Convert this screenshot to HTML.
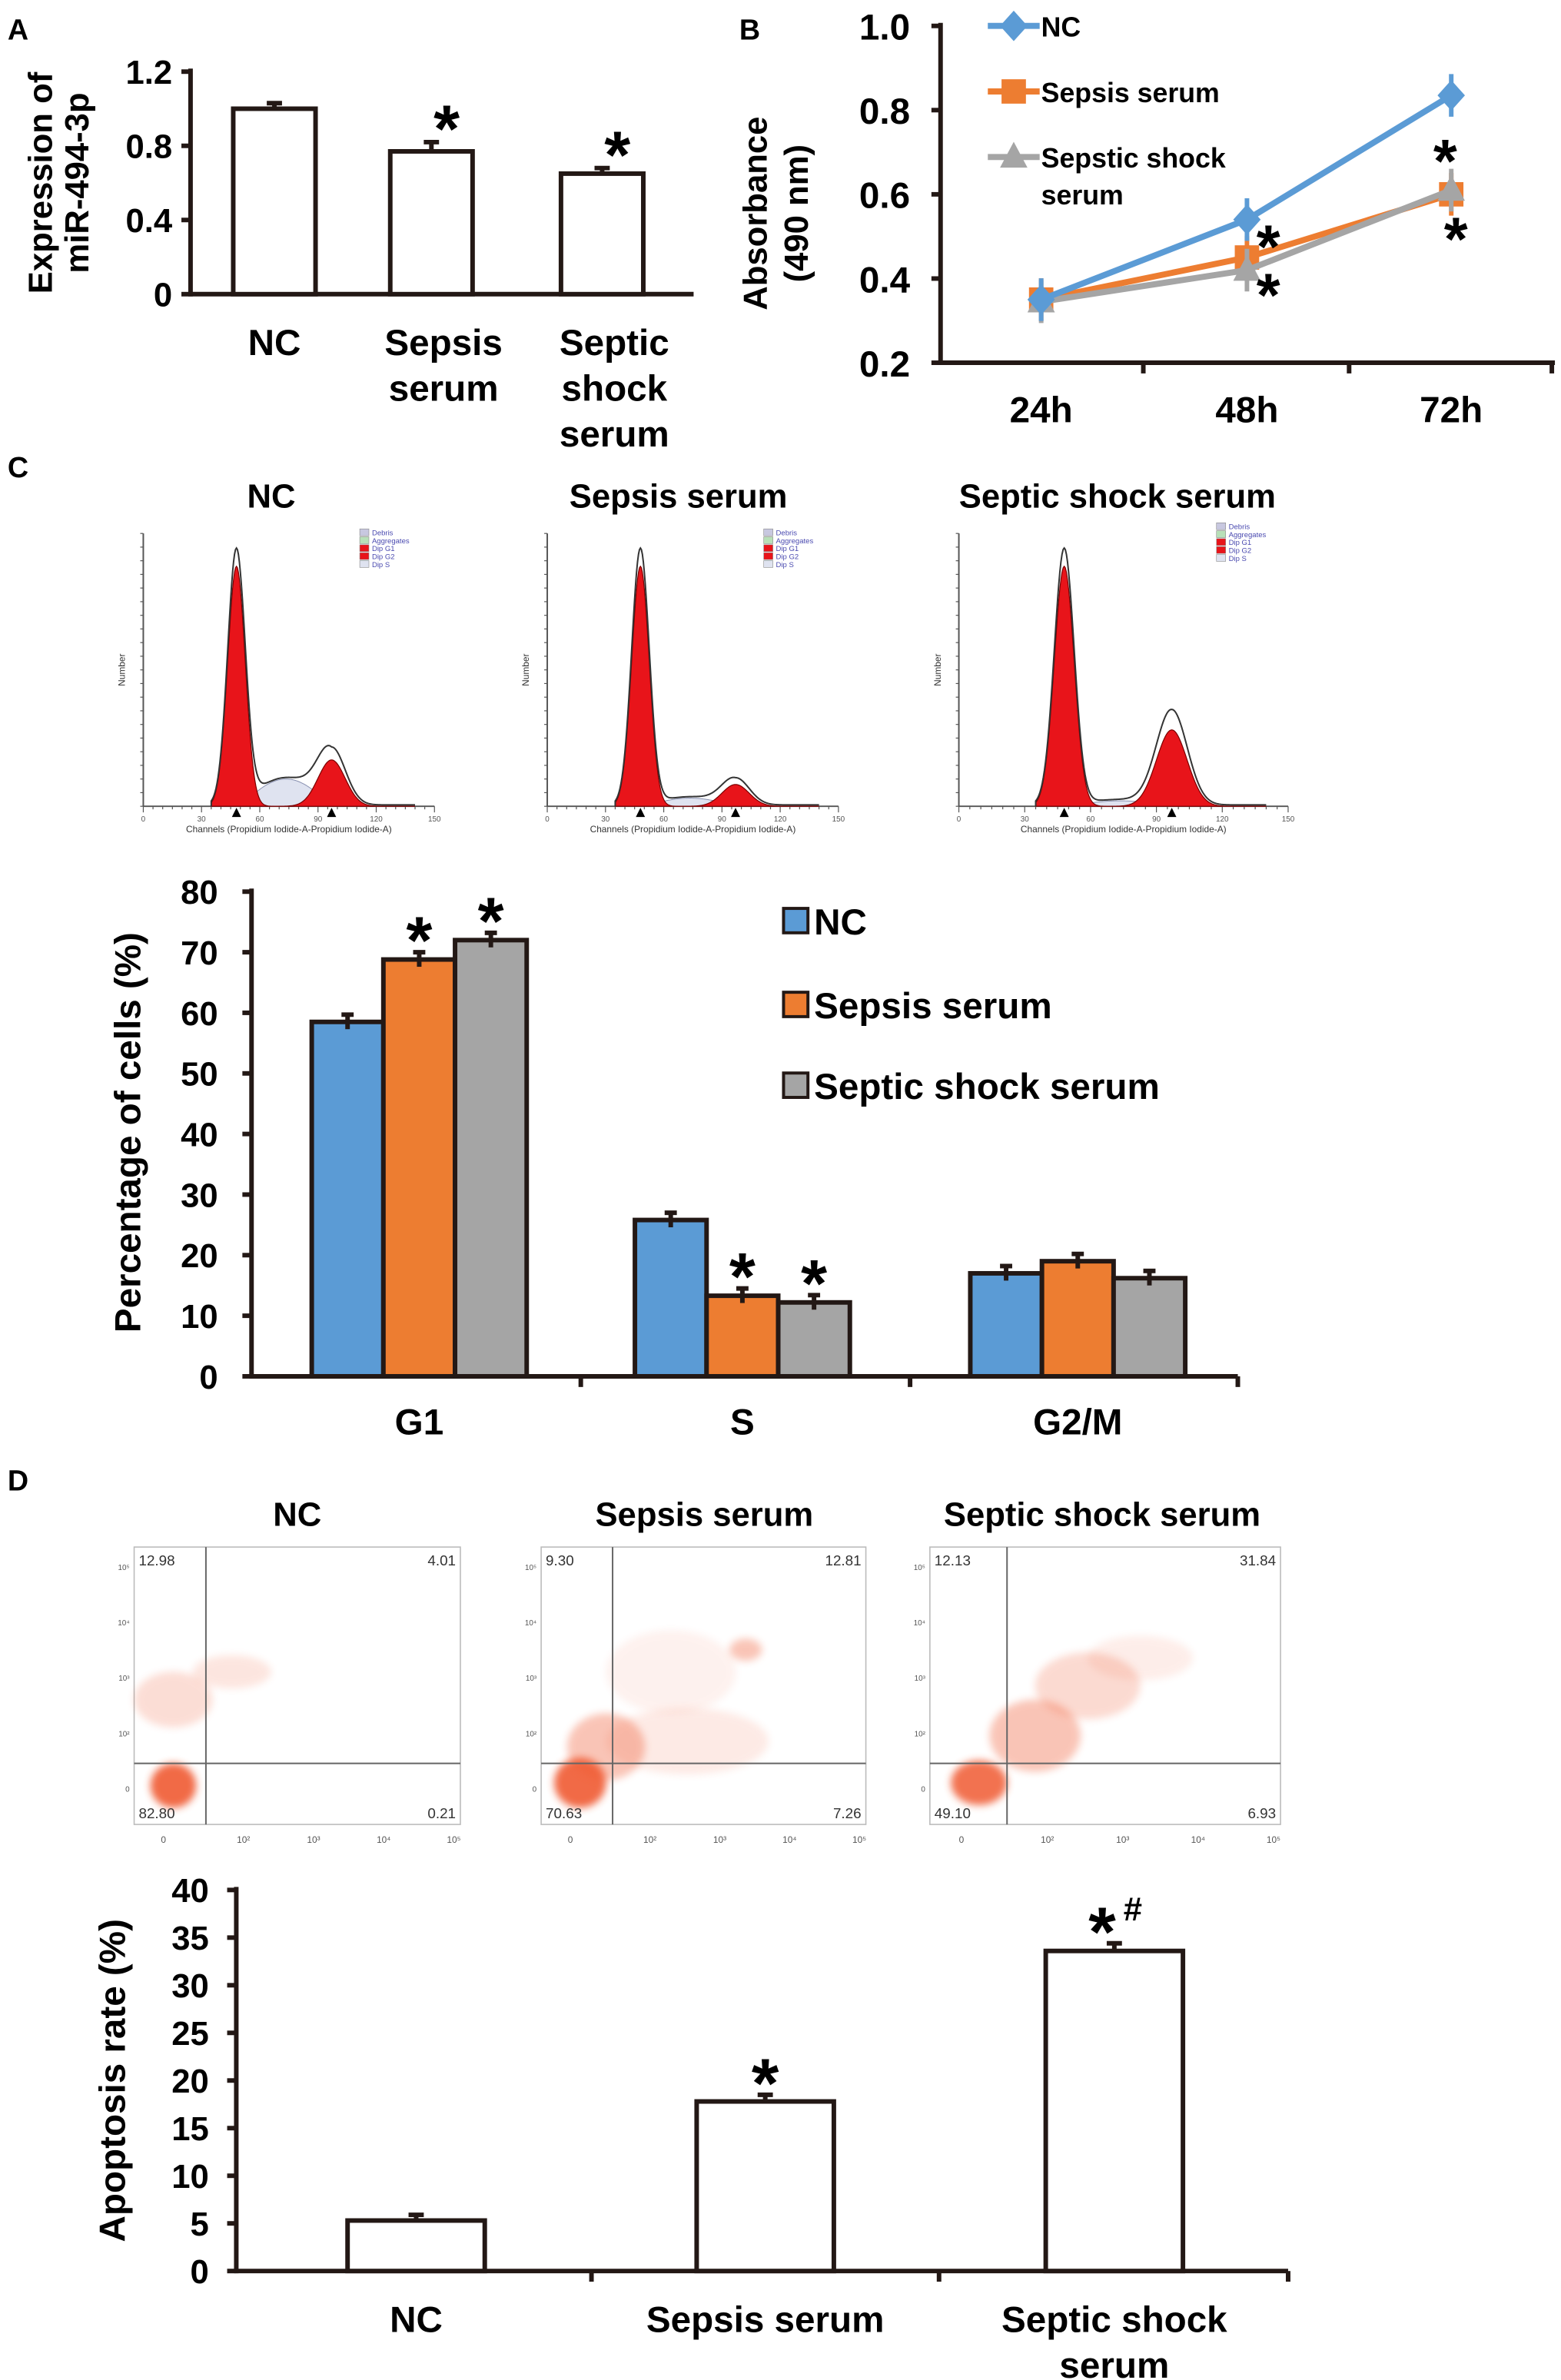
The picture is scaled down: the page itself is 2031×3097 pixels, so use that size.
<!DOCTYPE html>
<html><head><meta charset="utf-8">
<style>
html,body{margin:0;padding:0;background:#fff;}
svg{display:block;}
text{font-family:"Liberation Sans",Arial,sans-serif;}
.b{font-weight:bold;}
</style></head>
<body>
<svg id="fig" width="2031" height="3097" viewBox="0 0 1024 1561.5" preserveAspectRatio="none" xmlns="http://www.w3.org/2000/svg">
<defs><filter id="blur" x="-50%" y="-50%" width="200%" height="200%"><feGaussianBlur stdDeviation="2.5"/></filter></defs>
<g id="A"></g>
<g id="B"></g>
<g id="C1"></g>
<g id="C2"></g>
<g id="D1"></g>
<g id="D2"></g>
</svg>
<script>
// Panel A data
const aCategories = ["NC","Sepsis serum","Septic shock serum"];
const aValues = [1.0, 0.77, 0.65];
const aErrors = [0.03, 0.05, 0.03];
const aTicks = [0, 0.4, 0.8, 1.2];
// Panel B data
const bTimes = ["24h","48h","72h"];
const bNC = [0.35, 0.54, 0.835];
const bSepsis = [0.35, 0.45, 0.60];
const bShock = [0.345, 0.42, 0.61];
const bTicks = [0.2, 0.4, 0.6, 0.8, 1.0];
// Panel C bar data
const cPhases = ["G1","S","G2/M"];
const cNC = [58.5, 25.8, 17.0];
const cSepsis = [68.8, 13.3, 19.0];
const cShock = [72.0, 12.2, 16.2];
const cTicks = [0,10,20,30,40,50,60,70,80];
// Panel D bar data
const dCategories = ["NC","Sepsis serum","Septic shock serum"];
const dValues = [5.3, 17.8, 33.6];
const dErrors = [0.6, 0.7, 0.8];
const dTicks = [0,5,10,15,20,25,30,35,40];
// Flow quadrant percentages [UL, UR, LL, LR]
const quadNC = ["12.98","4.01","82.80","0.21"];
const quadSepsis = ["9.30","12.81","70.63","7.26"];
const quadShock = ["12.13","31.84","49.10","6.93"];
// Histogram peak heights (relative) [G1 peak, G2 peak, S level]
const histNC = [0.88, 0.17, 0.10];
const histSepsis = [0.88, 0.08, 0.03];
const histShock = [0.88, 0.28, 0.02];

const NS="http://www.w3.org/2000/svg";
function el(tag, attrs, parent, txt){
  const e=document.createElementNS(NS,tag);
  for(const k in attrs) e.setAttribute(k, attrs[k]);
  if(txt!==undefined) e.textContent=txt;
  parent.appendChild(e); return e;
}
// star centered at (x, cy)
function star(g,x,cy,size){size=size||44;
const t=el('text',{x:x,y:cy+size*0.44,'font-size':size,'text-anchor':'middle',class:'b'},g,'*');

return t;}

// ---------- Panel A ----------
(function(){
  const g=document.getElementById('A');
  const x0=125, y0=193, yTop=47, vmax=1.2;
  const ys=v=>y0-(v/vmax)*(y0-yTop);
  const xs=[180,283,395], bw=54;
  let t=el('text',{x:5,y:26,'font-size':19,class:'b'},g,'A');
  
  let yt=el('text',{transform:'translate(34,120) rotate(-90)','font-size':22,'text-anchor':'middle',class:'b'},g,'Expression of');
  
  let yt2=el('text',{transform:'translate(58,120) rotate(-90)','font-size':22,'text-anchor':'middle',class:'b'},g,'miR-494-3p');
  
  el('line',{x1:x0,y1:yTop-2,x2:x0,y2:y0+1.5,stroke:'#231815','stroke-width':3},g);
  el('line',{x1:x0,y1:y0,x2:455,y2:y0,stroke:'#231815','stroke-width':3},g);
  aTicks.forEach(v=>{
    el('line',{x1:x0-6,y1:ys(v),x2:x0,y2:ys(v),stroke:'#231815','stroke-width':3},g);
    const tk=el('text',{x:x0-12,y:ys(v)+8,'font-size':22,'text-anchor':'end',class:'b'},g,String(v));
    
  });
  const labels=[["NC"],["Sepsis","serum"],["Septic","shock","serum"]];
  aValues.forEach((v,i)=>{
    const r=el('rect',{x:xs[i]-bw/2,y:ys(v),width:bw,height:y0-ys(v),fill:'#fff',stroke:'#231815','stroke-width':3},g);
    
    el('line',{x1:xs[i],y1:ys(v),x2:xs[i],y2:ys(v+aErrors[i]),stroke:'#231815','stroke-width':3},g);
    el('line',{x1:xs[i]-5,y1:ys(v+aErrors[i]),x2:xs[i]+5,y2:ys(v+aErrors[i]),stroke:'#231815','stroke-width':3},g);
    if(i>0) star(g,xs[i]+10,ys(v+aErrors[i])-13,44);
    labels[i].forEach((s,j)=>{const l=el('text',{x:xs[i]+(i==0?0:8),y:233+j*30,'font-size':24,'text-anchor':'middle',class:'b'},g,s);
      });
  });
})();

// ---------- Panel B ----------
(function(){
  const g=document.getElementById('B');
  const x0=617, y0=238, yTop=17;
  const ys=v=>y0-(v-0.2)/0.8*(y0-yTop);
  const xs=[683,818,952];
  let t=el('text',{x:485,y:26,'font-size':19,class:'b'},g,'B');
  
  let yt=el('text',{transform:'translate(503,140) rotate(-90)','font-size':22,'text-anchor':'middle',class:'b'},g,'Absorbance');
  
  let yt2=el('text',{transform:'translate(530,140) rotate(-90)','font-size':22,'text-anchor':'middle',class:'b'},g,'(490 nm)');
  
  el('line',{x1:x0,y1:yTop-2,x2:x0,y2:y0+1.5,stroke:'#231815','stroke-width':3},g);
  el('line',{x1:x0,y1:y0,x2:1020,y2:y0,stroke:'#231815','stroke-width':3},g);
  [750,885,1018].forEach(x=>el('line',{x1:x,y1:y0,x2:x,y2:y0+7,stroke:'#231815','stroke-width':3},g));
  bTicks.forEach(v=>{
    el('line',{x1:x0-6,y1:ys(v),x2:x0,y2:ys(v),stroke:'#231815','stroke-width':3},g);
    const tk=el('text',{x:x0-20,y:ys(v)+9,'font-size':24,'text-anchor':'end',class:'b'},g,v.toFixed(1));
    
  });
  bTimes.forEach((s,i)=>{const l=el('text',{x:xs[i],y:277,'font-size':24,'text-anchor':'middle',class:'b'},g,s);
    });
  const series=[[bSepsis,'#ed7d31','sq'],[bShock,'#a5a5a5','tri'],[bNC,'#5b9bd5','dia']];
  series.forEach(([vals,c,m],si)=>{
    const pts=vals.map((v,i)=>xs[i]+','+ys(v)).join(' ');
    const pl=el('polyline',{points:pts,fill:'none',stroke:c,'stroke-width':4},g);
    
    vals.forEach((v,i)=>{
      const x=xs[i],y=ys(v);
      el('line',{x1:x,y1:y-14,x2:x,y2:y+14,stroke:c,'stroke-width':3},g);
      let mk;
      if(m=='sq') mk=el('rect',{x:x-8,y:y-8,width:16,height:16,fill:c},g);
      else if(m=='tri') mk=el('polygon',{points:`${x},${y-10} ${x+9},${y+7} ${x-9},${y+7}`,fill:c},g);
      else mk=el('polygon',{points:`${x},${y-10} ${x+9},${y} ${x},${y+10} ${x-9},${y}`,fill:c},g);
      
    });
  });
  star(g,832,158,40); star(g,832,190,40); star(g,948,102,40); star(g,955,153,40);
  const leg=[['NC','#5b9bd5','dia',17],['Sepsis serum','#ed7d31','sq',60],['Sepstic shock','#a5a5a5','tri',103]];
  leg.forEach(([s,c,m,y],i)=>{
    const lg=el('g',{},g);
    el('line',{x1:648,y1:y,x2:682,y2:y,stroke:c,'stroke-width':4},lg);
    const x=665;
    if(m=='sq') el('rect',{x:x-8,y:y-8,width:16,height:16,fill:c},lg);
    else if(m=='tri') el('polygon',{points:`${x},${y-10} ${x+9},${y+7} ${x-9},${y+7}`,fill:c},lg);
    else el('polygon',{points:`${x},${y-10} ${x+9},${y} ${x},${y+10} ${x-9},${y}`,fill:c},lg);
    el('text',{x:683,y:y+7,'font-size':18,class:'b'},lg,s);
  });
  el('text',{x:683,y:134,'font-size':18,class:'b'},g,'serum');
})();

// ---------- Panel C histograms ----------
(function(){
  const g=document.getElementById('C1');
  let t=el('text',{x:5,y:313,'font-size':19,class:'b'},g,'C');
  
  const panels=[[80,'NC',histNC,178],[345,'Sepsis serum',histSepsis,445],[615,'Septic shock serum',histShock,733]];
  panels.forEach(([x0,title,h,tx],pi)=>{
    const pg=el('g',{},g);
    const tt=el('text',{x:tx,y:333,'font-size':22,'text-anchor':'middle',class:'b'},pg,title);
    
    const W=pi==2?230:205, ax=x0+14, base=529, top=350, w=W-14;
    const X=c=>ax+c/150*w, Y=f=>base-f*(base-top);
    el('line',{x1:ax,y1:top,x2:ax,y2:base,stroke:'#555','stroke-width':1},pg);
    el('line',{x1:ax,y1:base,x2:ax+w,y2:base,stroke:'#555','stroke-width':1},pg);
    for(let c=0;c<=150;c+=5) el('line',{x1:X(c),y1:base,x2:X(c),y2:base+(c%30==0?4:2),stroke:'#555','stroke-width':0.6},pg);
    for(let k=0;k<=20;k++) el('line',{x1:ax-2,y1:base-k*(base-top)/20,x2:ax,y2:base-k*(base-top)/20,stroke:'#555','stroke-width':0.6},pg);
    [0,30,60,90,120,150].forEach(c=>el('text',{x:X(c),y:base+10,'font-size':5,'text-anchor':'middle',fill:'#555'},pg,String(c)));
    el('text',{x:ax+w/2,y:base+17,'font-size':6,'text-anchor':'middle',fill:'#333'},pg,'Channels (Propidium Iodide-A-Propidium Iodide-A)');
    el('text',{transform:`translate(${ax-12},${(top+base)/2}) rotate(-90)`,'font-size':6,'text-anchor':'middle',fill:'#333'},pg,'Number');
    const g1=v=>Math.exp(-Math.pow((v-48)/4.5,2)/2), g2=v=>Math.exp(-Math.pow((v-97)/7,2)/2);
    const sPart=v=>(v>50&&v<97)?h[2]*Math.sin((v-50)/47*Math.PI):0;
    let p1='M'+X(35)+','+base,p2='M'+X(80)+','+base,ps='M'+X(50)+','+base,po='M'+X(35)+','+base;
    for(let c=35;c<=140;c+=0.5){
      p1+=' L'+X(c)+','+Y(h[0]*g1(c));
      p2+=' L'+X(c)+','+Y(h[1]*g2(c));
      ps+=' L'+X(c)+','+Y(sPart(c));
      po+=' L'+X(c)+','+Y(Math.max(h[0]*1.07*g1(c),0)+h[1]*1.25*g2(c)+sPart(c)+0.005);
    }
    el('path',{d:ps+' Z',fill:'#dfe3f0',stroke:'#8890b0','stroke-width':0.5},pg);
    el('path',{d:p1+' Z',fill:'#e8141a',stroke:'#7a0000','stroke-width':0.6},pg);
    el('path',{d:p2+' Z',fill:'#e8141a',stroke:'#7a0000','stroke-width':0.6},pg);
    el('path',{d:po,fill:'none',stroke:'#333','stroke-width':1},pg);
    el('polygon',{points:`${X(48)},${base+1} ${X(48)+3},${base+7} ${X(48)-3},${base+7}`,fill:'#000'},pg);
    el('polygon',{points:`${X(97)},${base+1} ${X(97)+3},${base+7} ${X(97)-3},${base+7}`,fill:'#000'},pg);
    const lx=x0+(pi==2?183:156), ly=pi==2?343:347;
    [['#c8c8e0','Debris'],['#b8e0b8','Aggregates'],['#e8141a','Dip G1'],['#e8141a','Dip G2'],['#dfe3f0','Dip S']].forEach(([c,s],k)=>{
      el('rect',{x:lx,y:ly+k*5.2,width:6,height:4.5,fill:c,stroke:'#888','stroke-width':0.3},pg);
      el('text',{x:lx+8,y:ly+k*5.2+4.2,'font-size':4.8,fill:'#4a4ab0'},pg,s);
    });
  });
})();

// ---------- Panel C bar chart ----------
(function(){
  const g=document.getElementById('C2');
  const x0=165, y0=903, yTop=585;
  const ys=v=>y0-v/80*(y0-yTop);
  const centers=[275,487,707], bw=47;
  const yt=el('text',{transform:'translate(92,743) rotate(-90)','font-size':24,'text-anchor':'middle',class:'b'},g,'Percentage of cells (%)');
  
  el('line',{x1:x0,y1:yTop-2,x2:x0,y2:y0+1.5,stroke:'#231815','stroke-width':3},g);
  el('line',{x1:x0,y1:y0,x2:812,y2:y0,stroke:'#231815','stroke-width':3},g);
  [381,597,812].forEach(x=>el('line',{x1:x,y1:y0,x2:x,y2:y0+7,stroke:'#231815','stroke-width':3},g));
  cTicks.forEach(v=>{
    el('line',{x1:x0-6,y1:ys(v),x2:x0,y2:ys(v),stroke:'#231815','stroke-width':3},g);
    const tk=el('text',{x:x0-22,y:ys(v)+8,'font-size':22,'text-anchor':'end',class:'b'},g,String(v));
    
  });
  const series=[[cNC,'#5b9bd5',-1],[cSepsis,'#ed7d31',0],[cShock,'#a5a5a5',1]];
  cPhases.forEach((p,i)=>{
    const l=el('text',{x:centers[i],y:941,'font-size':24,'text-anchor':'middle',class:'b'},g,p);
    
    series.forEach(([vals,c,off],si)=>{
      const x=centers[i]+off*bw-bw/2, v=vals[i];
      const r=el('rect',{x:x,y:ys(v),width:bw,height:y0-ys(v),fill:c,stroke:'#231815','stroke-width':3},g);
      
      const e=ys(v+1.2), eb=ys(v-1.2);
      el('line',{x1:x+bw/2,y1:eb,x2:x+bw/2,y2:e,stroke:'#231815','stroke-width':3},g);
      el('line',{x1:x+bw/2-4,y1:e,x2:x+bw/2+4,y2:e,stroke:'#231815','stroke-width':3},g);
      if(i<2&&si>0) star(g,x+bw/2,e-12,44);
    });
  });
  [['NC','#5b9bd5',605],['Sepsis serum','#ed7d31',660],['Septic shock serum','#a5a5a5',713]].forEach(([s,c,y])=>{
    const lg=el('g',{},g);
    el('rect',{x:514,y:y-9,width:16,height:16,fill:c,stroke:'#231815','stroke-width':2},lg);
    el('text',{x:534,y:y+8,'font-size':24,class:'b'},lg,s);
  });
})();

// ---------- Panel D scatter ----------
(function(){
  const g=document.getElementById('D1');
  let t=el('text',{x:5,y:978,'font-size':19,class:'b'},g,'D');
  
  // cluster descriptors per panel: [cx, cy, rx, ry, opacity] in plot-fraction coordinates
  const clustersNC=[[0.12,0.86,0.07,0.08,0.9],[0.12,0.55,0.12,0.1,0.2],[0.3,0.45,0.12,0.06,0.15]];
  const clustersSep=[[0.12,0.85,0.08,0.09,0.9],[0.2,0.72,0.12,0.12,0.35],[0.45,0.7,0.25,0.12,0.12],[0.63,0.37,0.05,0.04,0.35],[0.4,0.45,0.2,0.15,0.08]];
  const clustersShk=[[0.14,0.85,0.08,0.08,0.85],[0.3,0.68,0.13,0.13,0.35],[0.45,0.5,0.15,0.12,0.22],[0.6,0.4,0.15,0.08,0.1]];
  const panels=[[88,214,'NC',quadNC,clustersNC,195],[355,213,'Sepsis serum',quadSepsis,clustersSep,462],[610,230,'Septic shock serum',quadShock,clustersShk,723]];
  panels.forEach(([x0,w,title,q,cl,tx],pi)=>{
    const pg=el('g',{},g);
    const tt=el('text',{x:tx,y:1001,'font-size':22,'text-anchor':'middle',class:'b'},pg,title);
    
    const y0=1015,h=182;
    el('rect',{x:x0,y:y0,width:w,height:h,fill:'#fff',stroke:'#bbb','stroke-width':0.8},pg);
    cl.forEach(([cx,cy,rx,ry,o])=>{
      el('ellipse',{cx:x0+cx*w,cy:y0+cy*h,rx:rx*w,ry:ry*h,fill:'#f05a30',opacity:o,filter:'url(#blur)'},pg);
    });
    const vx=x0+0.22*w, hy=y0+0.78*h;
    el('line',{x1:vx,y1:y0,x2:vx,y2:y0+h,stroke:'#666','stroke-width':1},pg);
    el('line',{x1:x0,y1:hy,x2:x0+w,y2:hy,stroke:'#666','stroke-width':1},pg);
    el('text',{x:x0+3,y:y0+12,'font-size':9.5,fill:'#333'},pg,q[0]);
    el('text',{x:x0+w-3,y:y0+12,'font-size':9.5,fill:'#333','text-anchor':'end'},pg,q[1]);
    el('text',{x:x0+3,y:y0+h-4,'font-size':9.5,fill:'#333'},pg,q[2]);
    el('text',{x:x0+w-3,y:y0+h-4,'font-size':9.5,fill:'#333','text-anchor':'end'},pg,q[3]);
    ['0','10²','10³','10⁴','10⁵'].forEach((s,k)=>el('text',{x:x0+0.09*w+k*0.215*w+(k?0.03*w:0),y:y0+h+12,'font-size':6,fill:'#555','text-anchor':'middle'},pg,s));
    ['10⁵','10⁴','10³','10²','0'].forEach((s,k)=>el('text',{x:x0-3,y:y0+15+k*0.2*h,'font-size':5,fill:'#555','text-anchor':'end'},pg,s));
  });
})();

// ---------- Panel D bar chart ----------
(function(){
  const g=document.getElementById('D2');
  const x0=155, y0=1490, yTop=1240;
  const ys=v=>y0-v/40*(y0-yTop);
  const centers=[273,502,731], bw=90;
  const yt=el('text',{transform:'translate(82,1365) rotate(-90)','font-size':24,'text-anchor':'middle',class:'b'},g,'Apoptosis rate (%)');
  
  el('line',{x1:x0,y1:yTop-2,x2:x0,y2:y0+1.5,stroke:'#231815','stroke-width':3},g);
  el('line',{x1:x0,y1:y0,x2:845,y2:y0,stroke:'#231815','stroke-width':3},g);
  [388,616,845].forEach(x=>el('line',{x1:x,y1:y0,x2:x,y2:y0+7,stroke:'#231815','stroke-width':3},g));
  dTicks.forEach(v=>{
    el('line',{x1:x0-6,y1:ys(v),x2:x0,y2:ys(v),stroke:'#231815','stroke-width':3},g);
    const tk=el('text',{x:x0-18,y:ys(v)+8,'font-size':22,'text-anchor':'end',class:'b'},g,String(v));
    
  });
  const labels=[["NC"],["Sepsis serum"],["Septic shock","serum"]];
  dValues.forEach((v,i)=>{
    const r=el('rect',{x:centers[i]-bw/2,y:ys(v),width:bw,height:y0-ys(v),fill:'#fff',stroke:'#231815','stroke-width':3},g);
    
    const e=ys(v+dErrors[i]);
    el('line',{x1:centers[i],y1:ys(v),x2:centers[i],y2:e,stroke:'#231815','stroke-width':3},g);
    el('line',{x1:centers[i]-5,y1:e,x2:centers[i]+5,y2:e,stroke:'#231815','stroke-width':3},g);
    if(i>0) star(g,centers[i]-(i==2?8:0),e-12,46);
    labels[i].forEach((s,j)=>{const l=el('text',{x:centers[i],y:1530+j*30,'font-size':24,'text-anchor':'middle',class:'b'},g,s);
      });
  });
  const hs=el('text',{x:737,y:ys(dValues[2])-20,'font-size':22,class:'b'},g,'#');
  
})();
</script>
</body></html>
